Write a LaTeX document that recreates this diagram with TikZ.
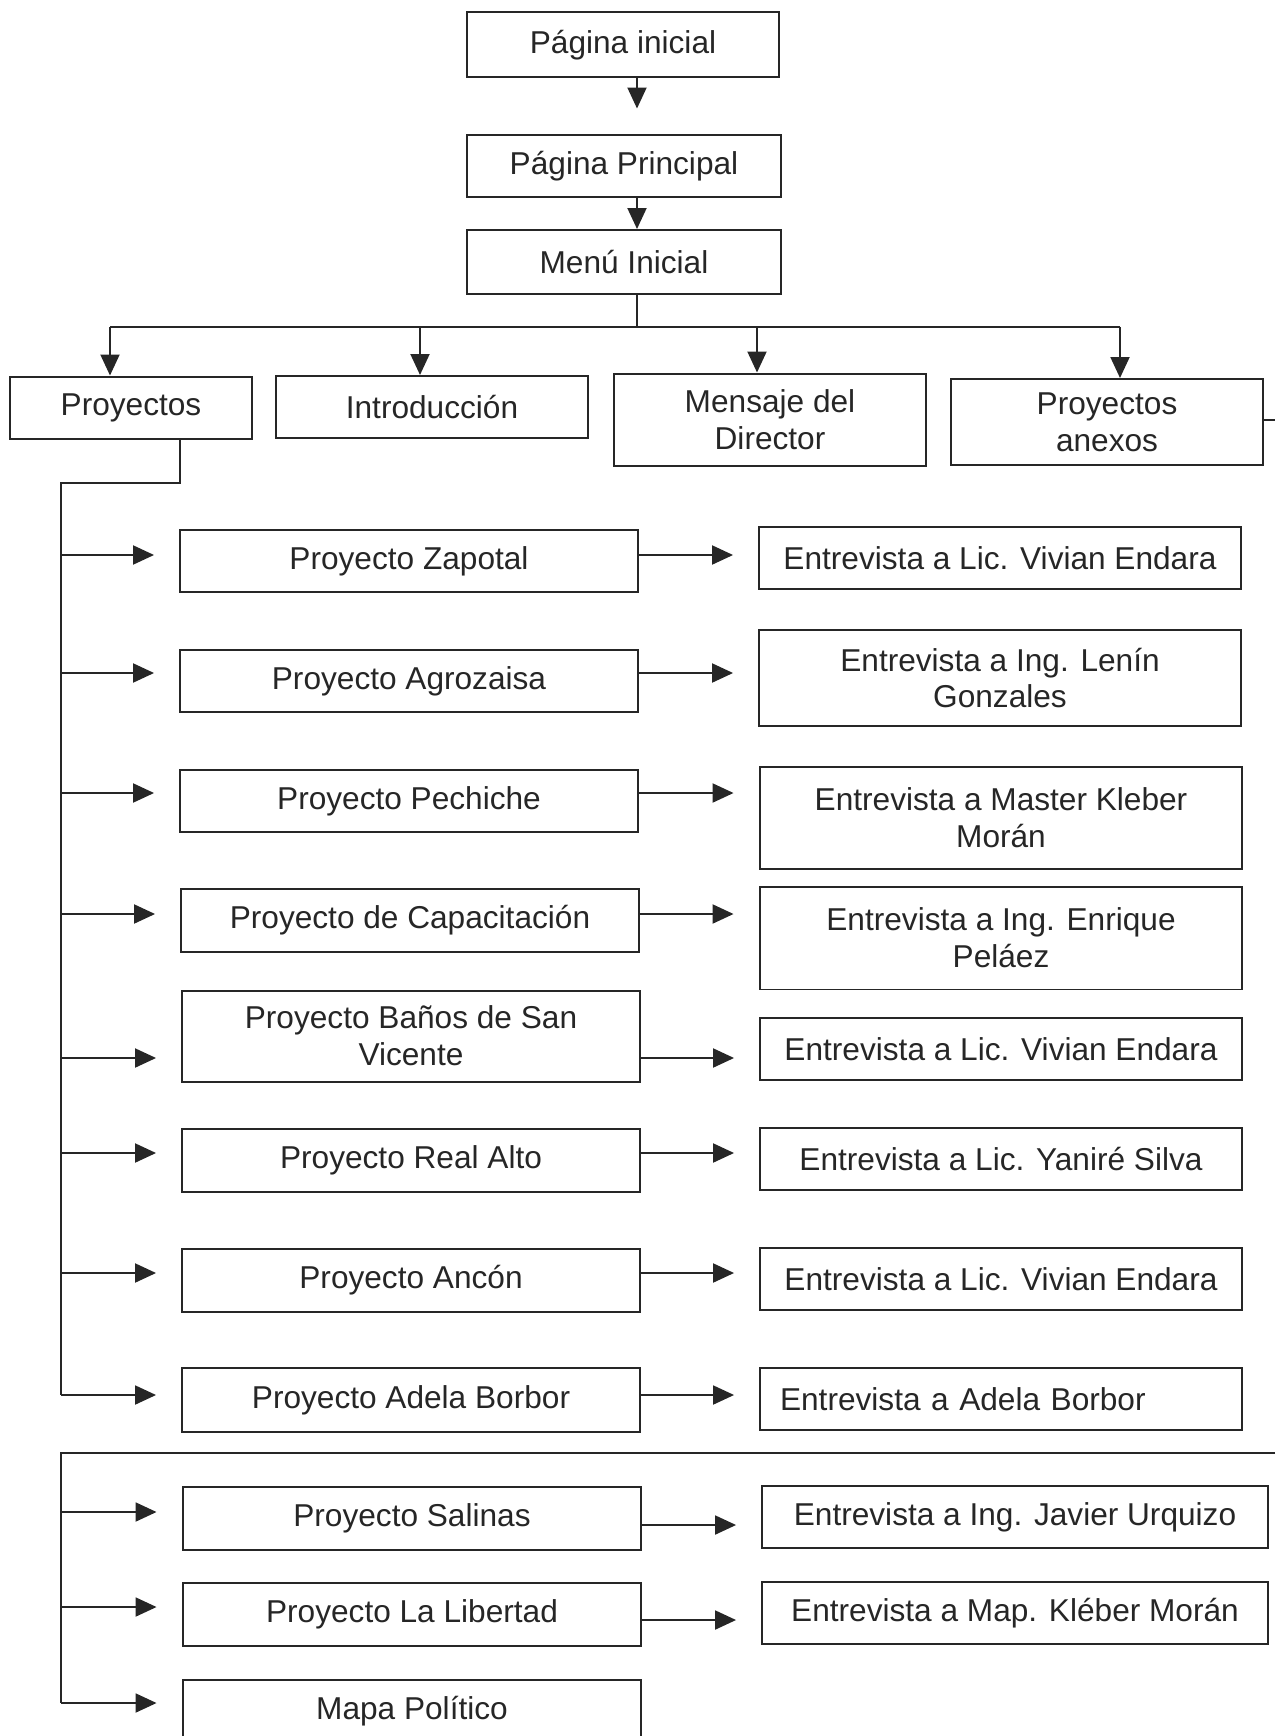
\documentclass[tikz,border=0pt]{standalone}
\usepackage{fontspec}
\setmainfont{Liberation Sans}
\usetikzlibrary{arrows.meta,calc,positioning}

\begin{document}
\begin{tikzpicture}[x=0.02cm,y=-0.02cm,
    box/.style={draw=black!85, line width=0.04cm, inner sep=0pt, align=center,
      text=black!85, font=\fontsize{18}{21}\selectfont},
    link/.style={draw=black!85, line width=0.04cm},
    arr/.style={link, -{Triangle[length=0.42cm,width=0.38cm]}},
    gap/.style={shorten >=0.5cm}]
                        \useasboundingbox (0,0) rectangle (1275,1736);

                        % Top of the menu
                        \node[box, minimum width=6.26cm, minimum height=1.3cm] (inicial) at (623,45) {Página inicial};
                        \node[box, minimum width=6.3cm, minimum height=1.26cm] (principal) at (624,166) {Página Principal};
                        \node[box, minimum width=6.3cm, minimum height=1.28cm] (menu) at (624,262) {Menú Inicial};

                        \coordinate (hub) at (637,327);
                        \draw[arr, gap] (inicial.south -| hub) -- (principal.north -| hub);
                        \draw[arr] (principal.south -| hub) -- (menu.north -| hub);

                        % Four sections
                        \node[box, minimum width=4.84cm, minimum height=1.26cm] (proyectos) at (131,408) {Proyectos};
                        \node[box, minimum width=6.26cm, minimum height=1.24cm] (intro) at (432,407) {Introducción};
                        \node[box, minimum width=6.26cm, minimum height=1.86cm] (mensaje) at (770,420) {Mensaje del\\Director};
                        \node[box, minimum width=6.26cm, minimum height=1.72cm] (anexos) at (1107,422) {Proyectos\\anexos};

                        \coordinate (barL) at (110,327);
                        \coordinate (barI) at (420,327);
                        \coordinate (barM) at (757,327);
                        \coordinate (barR) at (1120,327);
                        \draw[link] (menu.south -| hub) -- (hub);
                        \draw[link] (barL) -- (barR);
                        \draw[arr] (barL) -- (proyectos.north -| barL);
                        \draw[arr] (barI) -- (intro.north -| barI);
                        \draw[arr] (barM) -- (mensaje.north -| barM);
                        \draw[arr] (barR) -- (anexos.north -| barR);

                        % Exit to the next page
                        \coordinate (edgeA) at (1275,420);
                        \draw[link] (anexos.east |- edgeA) -- (edgeA);

                        % Projects, left column
                        \node[box, minimum width=9.16cm, minimum height=1.24cm] (zapotal) at (409,561) {Proyecto Zapotal};
                        \node[box, minimum width=9.16cm, minimum height=1.24cm] (agrozaisa) at (409,681) {Proyecto Agrozaisa};
                        \node[box, minimum width=9.16cm, minimum height=1.24cm] (pechiche) at (409,801) {Proyecto Pechiche};
                        \node[box, minimum width=9.16cm, minimum height=1.26cm] (capacitacion) at (410,920) {Proyecto de Capacitación};
                        \node[box, minimum width=9.16cm, minimum height=1.82cm] (banos) at (411,1036) {Proyecto Baños de San\\Vicente};
                        \node[box, minimum width=9.16cm, minimum height=1.26cm] (realalto) at (411,1160) {Proyecto Real Alto};
                        \node[box, minimum width=9.16cm, minimum height=1.26cm] (ancon) at (411,1280) {Proyecto Ancón};
                        \node[box, minimum width=9.16cm, minimum height=1.28cm] (adela) at (411,1400) {Proyecto Adela Borbor};

                        % Interviews, right column
                        \node[box, minimum width=9.64cm, minimum height=1.26cm] (ent1) at (1000,558) {Entrevista a Lic. Vivian Endara};
                        \node[box, minimum width=9.64cm, minimum height=1.94cm] (ent2) at (1000,678) {Entrevista a Ing. Lenín\\Gonzales};
                        \node[box, minimum width=9.66cm, minimum height=2.06cm] (ent3) at (1001,818) {Entrevista a Master Kleber\\Morán};
                        \node[box, minimum width=9.66cm, minimum height=2.06cm] (ent4) at (1001,938) {Entrevista a Ing. Enrique\\Peláez};
                        \node[box, minimum width=9.64cm, minimum height=1.24cm] (ent5) at (1001,1049) {Entrevista a Lic. Vivian Endara};
                        \node[box, minimum width=9.64cm, minimum height=1.24cm] (ent6) at (1001,1159) {Entrevista a Lic. Yaniré Silva};
                        \node[box, minimum width=9.64cm, minimum height=1.24cm] (ent7) at (1001,1279) {Entrevista a Lic. Vivian Endara};
                        \node[box, align=left, text width=8.84cm, inner xsep=0.4cm, minimum height=1.24cm] (ent8) at (1001,1399) {Entrevista a Adela Borbor};

                        % Spine below Proyectos
                        \coordinate (drop) at (180,483);
                        \coordinate (knee) at (61,483);
                        \coordinate (row1) at (61,555);
                        \coordinate (row2) at (61,673);
                        \coordinate (row3) at (61,793);
                        \coordinate (row4) at (61,914);
                        \coordinate (row5) at (61,1058);
                        \coordinate (row6) at (61,1153);
                        \coordinate (row7) at (61,1273);
                        \coordinate (row8) at (61,1395);
                        \draw[link] (proyectos.south -| drop) -- (drop) -- (knee) -- (row8);

                        \draw[arr, gap] (row1) -- (zapotal.west |- row1);
                        \draw[arr, gap] (zapotal.east |- row1) -- (ent1.west |- row1);
                        \draw[arr, gap] (row2) -- (agrozaisa.west |- row2);
                        \draw[arr, gap] (agrozaisa.east |- row2) -- (ent2.west |- row2);
                        \draw[arr, gap] (row3) -- (pechiche.west |- row3);
                        \draw[arr, gap] (pechiche.east |- row3) -- (ent3.west |- row3);
                        \draw[arr, gap] (row4) -- (capacitacion.west |- row4);
                        \draw[arr, gap] (capacitacion.east |- row4) -- (ent4.west |- row4);
                        \draw[arr, gap] (row5) -- (banos.west |- row5);
                        \draw[arr, gap] (banos.east |- row5) -- (ent5.west |- row5);
                        \draw[arr, gap] (row6) -- (realalto.west |- row6);
                        \draw[arr, gap] (realalto.east |- row6) -- (ent6.west |- row6);
                        \draw[arr, gap] (row7) -- (ancon.west |- row7);
                        \draw[arr, gap] (ancon.east |- row7) -- (ent7.west |- row7);
                        \draw[arr, gap] (row8) -- (adela.west |- row8);
                        \draw[arr, gap] (adela.east |- row8) -- (ent8.west |- row8);

                        % Annexed projects, coming from the next page
                        \node[box, minimum width=9.18cm, minimum height=1.26cm] (salinas) at (412,1518) {Proyecto Salinas};
                        \node[box, minimum width=9.18cm, minimum height=1.26cm] (libertad) at (412,1614) {Proyecto La Libertad};
                        \node[box, minimum width=9.18cm, minimum height=1.26cm] (mapa) at (412,1711) {Mapa Político};
                        \node[box, minimum width=10.12cm, minimum height=1.24cm] (ent9) at (1015,1517) {Entrevista a Ing. Javier Urquizo};
                        \node[box, minimum width=10.12cm, minimum height=1.24cm] (ent10) at (1015,1613) {Entrevista a Map. Kléber Morán};

                        \coordinate (edgeB) at (1275,1453);
                        \coordinate (kneeB) at (61,1453);
                        \coordinate (row9) at (61,1512);
                        \coordinate (row10) at (61,1607);
                        \coordinate (row11) at (61,1703);
                        \coordinate (mid9) at (700,1525);
                        \coordinate (mid10) at (700,1620);
                        \draw[link] (edgeB) -- (kneeB) -- (row11);

                        \draw[arr, gap] (row9) -- (salinas.west |- row9);
                        \draw[arr, gap] (salinas.east |- mid9) -- (ent9.west |- mid9);
                        \draw[arr, gap] (row10) -- (libertad.west |- row10);
                        \draw[arr, gap] (libertad.east |- mid10) -- (ent10.west |- mid10);
                        \draw[arr, gap] (row11) -- (mapa.west |- row11);
\end{tikzpicture}
\end{document}
